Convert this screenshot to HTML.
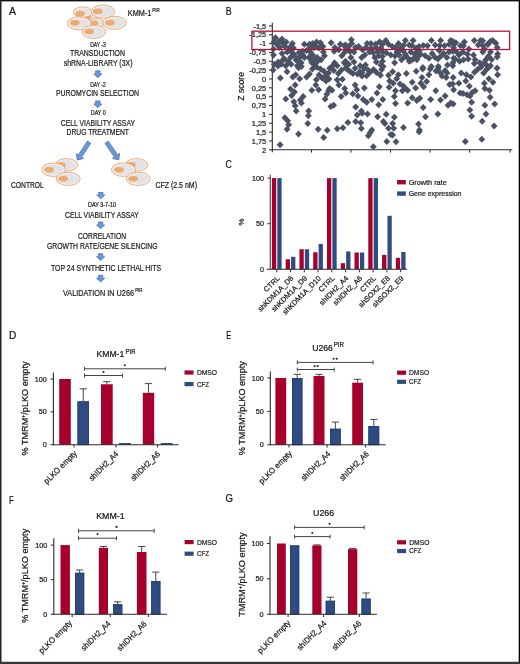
<!DOCTYPE html>
<html><head><meta charset="utf-8"><style>
html,body{margin:0;padding:0;background:#fff;}
svg{display:block;font-family:"Liberation Sans", sans-serif;will-change:transform;}
text{stroke:#1a1a1a;stroke-width:0.22px;}
</style></head><body>
<svg width="520" height="664" viewBox="0 0 520 664">
<rect x="0" y="0" width="520" height="664" fill="#fff"/>
<text x="9.0" y="15.2" font-size="11.5" text-anchor="start" fill="#111" textLength="7.0" lengthAdjust="spacingAndGlyphs" >A</text>
<ellipse cx="90" cy="18" rx="8" ry="4.5" fill="#e3e3e5" stroke="#eeab72" stroke-width="1"/>
<ellipse cx="90" cy="18" rx="6.90" ry="3.40" fill="none" stroke="#f2f2f4" stroke-width="0.9"/>
<ellipse cx="87.6" cy="17.2" rx="3.8" ry="2.3" fill="#eea96e"/>
<ellipse cx="96.8" cy="23" rx="8" ry="4.5" fill="#e3e3e5" stroke="#eeab72" stroke-width="1"/>
<ellipse cx="96.8" cy="23" rx="6.90" ry="3.40" fill="none" stroke="#f2f2f4" stroke-width="0.9"/>
<ellipse cx="94.4" cy="22.9" rx="3.6" ry="2.3" fill="#eea96e"/>
<ellipse cx="82.8" cy="12.1" rx="9.5" ry="5.2" fill="#e3e3e5" stroke="#eeab72" stroke-width="1"/>
<ellipse cx="82.8" cy="12.1" rx="8.40" ry="4.10" fill="none" stroke="#f2f2f4" stroke-width="0.9"/>
<ellipse cx="80" cy="13.7" rx="4.8" ry="2.8" fill="#eea96e"/>
<ellipse cx="103" cy="11.5" rx="11.7" ry="6.4" fill="#e3e3e5" stroke="#eeab72" stroke-width="1"/>
<ellipse cx="103" cy="11.5" rx="10.60" ry="5.30" fill="none" stroke="#f2f2f4" stroke-width="0.9"/>
<ellipse cx="97.8" cy="11.2" rx="4.8" ry="2.8" fill="#eea96e"/>
<ellipse cx="79" cy="23.3" rx="11.9" ry="6.5" fill="#e3e3e5" stroke="#eeab72" stroke-width="1"/>
<ellipse cx="79" cy="23.3" rx="10.80" ry="5.40" fill="none" stroke="#f2f2f4" stroke-width="0.9"/>
<ellipse cx="74.8" cy="22.7" rx="4.8" ry="2.8" fill="#eea96e"/>
<ellipse cx="114.5" cy="22.8" rx="11.7" ry="6.5" fill="#e3e3e5" stroke="#eeab72" stroke-width="1"/>
<ellipse cx="114.5" cy="22.8" rx="10.60" ry="5.40" fill="none" stroke="#f2f2f4" stroke-width="0.9"/>
<ellipse cx="109.8" cy="22.7" rx="4.8" ry="2.8" fill="#eea96e"/>
<ellipse cx="94" cy="31.9" rx="11.8" ry="6.5" fill="#e3e3e5" stroke="#eeab72" stroke-width="1"/>
<ellipse cx="94" cy="31.9" rx="10.70" ry="5.40" fill="none" stroke="#f2f2f4" stroke-width="0.9"/>
<ellipse cx="89.2" cy="31.5" rx="4.8" ry="2.8" fill="#eea96e"/>
<text x="127.8" y="15.6" font-size="9.1" text-anchor="start" fill="#1a1a1a" textLength="23.6" lengthAdjust="spacingAndGlyphs" >KMM-1</text>
<text x="152.3" y="11.9" font-size="5.9" text-anchor="start" fill="#1a1a1a" textLength="7.5" lengthAdjust="spacingAndGlyphs" >PIR</text>
<text x="97.9" y="46.5" font-size="6.5" text-anchor="middle" fill="#1a1a1a" textLength="15.5" lengthAdjust="spacingAndGlyphs" >DAY -3</text>
<text x="97.5" y="55.6" font-size="9.1" text-anchor="middle" fill="#1a1a1a" textLength="55" lengthAdjust="spacingAndGlyphs" >TRANSDUCTION</text>
<text x="98.1" y="65.6" font-size="9.1" text-anchor="middle" fill="#1a1a1a" textLength="68.7" lengthAdjust="spacingAndGlyphs" >shRNA-LIBRARY (3X)</text>
<polygon points="-2.20,-6.90 2.20,-6.90 2.20,-3.80 4.10,-3.80 0.00,0.00 -4.10,-3.80 -2.20,-3.80" transform="translate(97.8,77.7) rotate(0)" fill="#6c98d8" stroke="#416eb2" stroke-width="0.7" stroke-linejoin="miter"/>
<text x="98" y="86.9" font-size="6.5" text-anchor="middle" fill="#1a1a1a" textLength="15.5" lengthAdjust="spacingAndGlyphs" >DAY -2</text>
<text x="97.5" y="96.1" font-size="9.1" text-anchor="middle" fill="#1a1a1a" textLength="83" lengthAdjust="spacingAndGlyphs" >PUROMYCIN SELECTION</text>
<polygon points="-2.20,-6.90 2.20,-6.90 2.20,-3.80 4.10,-3.80 0.00,0.00 -4.10,-3.80 -2.20,-3.80" transform="translate(97.8,107.8) rotate(0)" fill="#6c98d8" stroke="#416eb2" stroke-width="0.7" stroke-linejoin="miter"/>
<text x="98.3" y="115.2" font-size="6.5" text-anchor="middle" fill="#1a1a1a" textLength="15" lengthAdjust="spacingAndGlyphs" >DAY 0</text>
<text x="97.9" y="125.8" font-size="9.1" text-anchor="middle" fill="#1a1a1a" textLength="74.2" lengthAdjust="spacingAndGlyphs" >CELL VIABILITY ASSAY</text>
<text x="97.7" y="135.4" font-size="9.1" text-anchor="middle" fill="#1a1a1a" textLength="62.4" lengthAdjust="spacingAndGlyphs" >DRUG TREATMENT</text>
<polygon points="-2.00,-21.30 2.00,-21.30 2.00,-4.70 4.40,-4.70 0.00,0.00 -4.40,-4.70 -2.00,-4.70" transform="translate(77.4,160.0) rotate(33.2)" fill="#6c98d8" stroke="#416eb2" stroke-width="0.7" stroke-linejoin="miter"/>
<polygon points="-2.00,-21.30 2.00,-21.30 2.00,-4.70 4.40,-4.70 0.00,0.00 -4.40,-4.70 -2.00,-4.70" transform="translate(118.7,159.8) rotate(-34.6)" fill="#6c98d8" stroke="#416eb2" stroke-width="0.7" stroke-linejoin="miter"/>
<ellipse cx="66.5" cy="164.9" rx="11.3" ry="6.25" fill="#e3e3e5" stroke="#eeab72" stroke-width="1"/>
<ellipse cx="66.5" cy="164.9" rx="10.20" ry="5.15" fill="none" stroke="#f2f2f4" stroke-width="0.9"/>
<ellipse cx="60.8" cy="164.9" rx="4.8" ry="2.8" fill="#eea96e"/>
<ellipse cx="53.5" cy="169.7" rx="12" ry="6.7" fill="#e3e3e5" stroke="#eeab72" stroke-width="1"/>
<ellipse cx="53.5" cy="169.7" rx="10.90" ry="5.60" fill="none" stroke="#f2f2f4" stroke-width="0.9"/>
<ellipse cx="49.2" cy="169.7" rx="4.8" ry="2.8" fill="#eea96e"/>
<ellipse cx="68.2" cy="178.8" rx="12" ry="6.6" fill="#e3e3e5" stroke="#eeab72" stroke-width="1"/>
<ellipse cx="68.2" cy="178.8" rx="10.90" ry="5.50" fill="none" stroke="#f2f2f4" stroke-width="0.9"/>
<ellipse cx="63.2" cy="178.8" rx="4.8" ry="2.8" fill="#eea96e"/>
<ellipse cx="136.5" cy="164.9" rx="11.3" ry="6.25" fill="#e3e3e5" stroke="#eeab72" stroke-width="1"/>
<ellipse cx="136.5" cy="164.9" rx="10.20" ry="5.15" fill="none" stroke="#f2f2f4" stroke-width="0.9"/>
<ellipse cx="130.8" cy="164.9" rx="4.8" ry="2.8" fill="#eea96e"/>
<ellipse cx="123.5" cy="169.7" rx="12" ry="6.7" fill="#e3e3e5" stroke="#eeab72" stroke-width="1"/>
<ellipse cx="123.5" cy="169.7" rx="10.90" ry="5.60" fill="none" stroke="#f2f2f4" stroke-width="0.9"/>
<ellipse cx="119.2" cy="169.7" rx="4.8" ry="2.8" fill="#eea96e"/>
<ellipse cx="138.2" cy="178.8" rx="12" ry="6.6" fill="#e3e3e5" stroke="#eeab72" stroke-width="1"/>
<ellipse cx="138.2" cy="178.8" rx="10.90" ry="5.50" fill="none" stroke="#f2f2f4" stroke-width="0.9"/>
<ellipse cx="133.2" cy="178.8" rx="4.8" ry="2.8" fill="#eea96e"/>
<text x="11" y="187.6" font-size="9.1" text-anchor="start" fill="#1a1a1a" textLength="32.8" lengthAdjust="spacingAndGlyphs" >CONTROL</text>
<text x="155.4" y="187.6" font-size="9.1" text-anchor="start" fill="#1a1a1a" textLength="41.6" lengthAdjust="spacingAndGlyphs" >CFZ (2.5 nM)</text>
<polygon points="-2.20,-6.30 2.20,-6.30 2.20,-3.80 4.10,-3.80 0.00,0.00 -4.10,-3.80 -2.20,-3.80" transform="translate(100.8,198.8) rotate(0)" fill="#6c98d8" stroke="#416eb2" stroke-width="0.7" stroke-linejoin="miter"/>
<text x="102" y="207.2" font-size="6.5" text-anchor="middle" fill="#1a1a1a" textLength="28" lengthAdjust="spacingAndGlyphs" >DAY 3-7-10</text>
<text x="101.9" y="217.6" font-size="9.1" text-anchor="middle" fill="#1a1a1a" textLength="73.8" lengthAdjust="spacingAndGlyphs" >CELL VIABILITY ASSAY</text>
<polygon points="-2.20,-6.80 2.20,-6.80 2.20,-3.80 4.10,-3.80 0.00,0.00 -4.10,-3.80 -2.20,-3.80" transform="translate(100.6,228.8) rotate(0)" fill="#6c98d8" stroke="#416eb2" stroke-width="0.7" stroke-linejoin="miter"/>
<text x="102" y="239.3" font-size="9.1" text-anchor="middle" fill="#1a1a1a" textLength="48" lengthAdjust="spacingAndGlyphs" >CORRELATION</text>
<text x="102.2" y="248.8" font-size="9.1" text-anchor="middle" fill="#1a1a1a" textLength="110.5" lengthAdjust="spacingAndGlyphs" >GROWTH RATE/GENE SILENCING</text>
<polygon points="-2.20,-6.80 2.20,-6.80 2.20,-3.80 4.10,-3.80 0.00,0.00 -4.10,-3.80 -2.20,-3.80" transform="translate(100.6,260.5) rotate(0)" fill="#6c98d8" stroke="#416eb2" stroke-width="0.7" stroke-linejoin="miter"/>
<text x="106" y="271.3" font-size="9.1" text-anchor="middle" fill="#1a1a1a" textLength="110" lengthAdjust="spacingAndGlyphs" >TOP 24 SYNTHETIC LETHAL HITS</text>
<polygon points="-2.20,-6.80 2.20,-6.80 2.20,-3.80 4.10,-3.80 0.00,0.00 -4.10,-3.80 -2.20,-3.80" transform="translate(100.6,282.0) rotate(0)" fill="#6c98d8" stroke="#416eb2" stroke-width="0.7" stroke-linejoin="miter"/>
<text x="63" y="295.6" font-size="9.1" text-anchor="start" fill="#1a1a1a" textLength="71" lengthAdjust="spacingAndGlyphs" >VALIDATION IN U266</text>
<text x="135.2" y="291.9" font-size="5.9" text-anchor="start" fill="#1a1a1a" textLength="7.3" lengthAdjust="spacingAndGlyphs" >PIR</text>
<text x="225.8" y="15.0" font-size="11.5" text-anchor="start" fill="#111" textLength="5.9" lengthAdjust="spacingAndGlyphs" >B</text>
<line x1="269.0" y1="25.9" x2="272.3" y2="25.9" stroke="#2a2a2a" stroke-width="1"/>
<text x="266.2" y="28.599999999999998" font-size="7.4" text-anchor="end" fill="#222" >-1,5</text>
<line x1="269.0" y1="34.75" x2="272.3" y2="34.75" stroke="#2a2a2a" stroke-width="1"/>
<text x="266.2" y="37.45" font-size="7.4" text-anchor="end" fill="#222" >-1,25</text>
<line x1="269.0" y1="43.599999999999994" x2="272.3" y2="43.599999999999994" stroke="#2a2a2a" stroke-width="1"/>
<text x="266.2" y="46.3" font-size="7.4" text-anchor="end" fill="#222" >-1</text>
<line x1="269.0" y1="52.449999999999996" x2="272.3" y2="52.449999999999996" stroke="#2a2a2a" stroke-width="1"/>
<text x="266.2" y="55.15" font-size="7.4" text-anchor="end" fill="#222" >-0,75</text>
<line x1="269.0" y1="61.3" x2="272.3" y2="61.3" stroke="#2a2a2a" stroke-width="1"/>
<text x="266.2" y="64.0" font-size="7.4" text-anchor="end" fill="#222" >-0,5</text>
<line x1="269.0" y1="70.15" x2="272.3" y2="70.15" stroke="#2a2a2a" stroke-width="1"/>
<text x="266.2" y="72.85000000000001" font-size="7.4" text-anchor="end" fill="#222" >-0,25</text>
<line x1="269.0" y1="79.0" x2="272.3" y2="79.0" stroke="#2a2a2a" stroke-width="1"/>
<text x="266.2" y="81.7" font-size="7.4" text-anchor="end" fill="#222" >0</text>
<line x1="269.0" y1="87.85" x2="272.3" y2="87.85" stroke="#2a2a2a" stroke-width="1"/>
<text x="266.2" y="90.55" font-size="7.4" text-anchor="end" fill="#222" >0,25</text>
<line x1="269.0" y1="96.69999999999999" x2="272.3" y2="96.69999999999999" stroke="#2a2a2a" stroke-width="1"/>
<text x="266.2" y="99.39999999999999" font-size="7.4" text-anchor="end" fill="#222" >0,5</text>
<line x1="269.0" y1="105.54999999999998" x2="272.3" y2="105.54999999999998" stroke="#2a2a2a" stroke-width="1"/>
<text x="266.2" y="108.24999999999999" font-size="7.4" text-anchor="end" fill="#222" >0,75</text>
<line x1="269.0" y1="114.4" x2="272.3" y2="114.4" stroke="#2a2a2a" stroke-width="1"/>
<text x="266.2" y="117.10000000000001" font-size="7.4" text-anchor="end" fill="#222" >1</text>
<line x1="269.0" y1="123.25" x2="272.3" y2="123.25" stroke="#2a2a2a" stroke-width="1"/>
<text x="266.2" y="125.95" font-size="7.4" text-anchor="end" fill="#222" >1,25</text>
<line x1="269.0" y1="132.1" x2="272.3" y2="132.1" stroke="#2a2a2a" stroke-width="1"/>
<text x="266.2" y="134.79999999999998" font-size="7.4" text-anchor="end" fill="#222" >1,5</text>
<line x1="269.0" y1="140.95" x2="272.3" y2="140.95" stroke="#2a2a2a" stroke-width="1"/>
<text x="266.2" y="143.64999999999998" font-size="7.4" text-anchor="end" fill="#222" >1,75</text>
<line x1="269.0" y1="149.79999999999998" x2="272.3" y2="149.79999999999998" stroke="#2a2a2a" stroke-width="1"/>
<text x="266.2" y="152.49999999999997" font-size="7.4" text-anchor="end" fill="#222" >2</text>
<line x1="272.3" y1="22.7" x2="272.3" y2="152.3" stroke="#2a2a2a" stroke-width="1.1"/>
<line x1="272.3" y1="149.8" x2="512.3" y2="149.8" stroke="#2a2a2a" stroke-width="1.1"/>
<line x1="311.5" y1="149.8" x2="311.5" y2="152.6" stroke="#2a2a2a" stroke-width="1"/>
<line x1="351.0" y1="149.8" x2="351.0" y2="152.6" stroke="#2a2a2a" stroke-width="1"/>
<line x1="390.5" y1="149.8" x2="390.5" y2="152.6" stroke="#2a2a2a" stroke-width="1"/>
<line x1="430.0" y1="149.8" x2="430.0" y2="152.6" stroke="#2a2a2a" stroke-width="1"/>
<line x1="469.7" y1="149.8" x2="469.7" y2="152.6" stroke="#2a2a2a" stroke-width="1"/>
<line x1="510.0" y1="149.8" x2="510.0" y2="152.6" stroke="#2a2a2a" stroke-width="1"/>
<text transform="translate(243.6,86.4) rotate(-90)" x="0" y="0" font-size="8.3" text-anchor="middle" fill="#111" textLength="28.7" lengthAdjust="spacingAndGlyphs">Z score</text>
<path d="M296.2 107.4L299.6 110.9L296.2 114.4L292.8 110.9ZM308.7 107.4L312.1 110.9L308.7 114.4L305.2 110.9ZM308.3 112.3L311.8 115.8L308.3 119.3L304.9 115.8ZM284.9 114.3L288.3 117.8L284.9 121.3L281.4 117.8ZM287.6 117.2L291.1 120.7L287.6 124.2L284.2 120.7ZM288.7 121.2L292.1 124.7L288.7 128.2L285.2 124.7ZM287.0 125.8L290.4 129.3L287.0 132.8L283.6 129.3ZM307.8 120.1L311.2 123.6L307.8 127.1L304.4 123.6ZM298.5 130.5L301.9 134.0L298.5 137.5L295.1 134.0ZM318.2 125.8L321.6 129.3L318.2 132.8L314.8 129.3ZM327.2 126.8L330.6 130.3L327.2 133.8L323.8 130.3ZM323.7 133.9L327.1 137.4L323.7 140.9L320.2 137.4ZM280.1 141.2L283.6 144.7L280.1 148.2L276.7 144.7ZM361.4 107.4L364.8 110.9L361.4 114.4L357.9 110.9ZM362.2 109.7L365.6 113.2L362.2 116.7L358.8 113.2ZM357.2 111.4L360.6 114.9L357.2 118.4L353.8 114.9ZM367.5 110.5L370.9 114.0L367.5 117.5L364.1 114.0ZM377.6 113.2L381.1 116.7L377.6 120.2L374.2 116.7ZM386.2 110.8L389.6 114.3L386.2 117.8L382.8 114.3ZM347.9 118.9L351.3 122.4L347.9 125.9L344.4 122.4ZM355.7 118.1L359.1 121.6L355.7 125.1L352.2 121.6ZM360.8 119.3L364.2 122.8L360.8 126.3L357.4 122.8ZM361.4 125.0L364.8 128.5L361.4 132.0L357.9 128.5ZM343.0 124.3L346.4 127.8L343.0 131.3L339.6 127.8ZM337.2 125.3L340.6 128.8L337.2 132.3L333.8 128.8ZM371.8 126.4L375.2 129.9L371.8 133.4L368.4 129.9ZM370.1 129.3L373.6 132.8L370.1 136.3L366.7 132.8ZM368.3 132.2L371.8 135.7L368.3 139.2L364.9 135.7ZM383.3 118.1L386.8 121.6L383.3 125.1L379.9 121.6ZM384.8 120.1L388.2 123.6L384.8 127.1L381.4 123.6ZM388.5 124.7L391.9 128.2L388.5 131.7L385.1 128.2ZM390.8 131.0L394.2 134.5L390.8 138.0L387.4 134.5ZM386.8 138.0L390.2 141.5L386.8 145.0L383.4 141.5ZM373.3 143.2L376.8 146.7L373.3 150.2L369.9 146.7ZM425.5 113.2L428.9 116.7L425.5 120.2L422.1 116.7ZM437.9 110.5L441.3 114.0L437.9 117.5L434.4 114.0ZM394.3 113.7L397.8 117.2L394.3 120.7L390.9 117.2ZM392.6 120.1L396.1 123.6L392.6 127.1L389.2 123.6ZM393.7 124.7L397.1 128.2L393.7 131.7L390.2 128.2ZM403.5 124.1L406.9 127.6L403.5 131.1L400.1 127.6ZM418.5 120.4L421.9 123.9L418.5 127.4L415.1 123.9ZM419.5 126.4L422.9 129.9L419.5 133.4L416.1 129.9ZM419.1 128.2L422.6 131.7L419.1 135.2L415.7 131.7ZM392.6 131.6L396.1 135.1L392.6 138.6L389.2 135.1ZM396.0 138.3L399.4 141.8L396.0 145.3L392.6 141.8ZM469.9 106.6L473.3 110.1L469.9 113.6L466.4 110.1ZM471.6 112.8L475.1 116.3L471.6 119.8L468.2 116.3ZM486.0 110.5L489.4 114.0L486.0 117.5L482.6 114.0ZM482.2 117.8L485.6 121.3L482.2 124.8L478.8 121.3ZM494.1 122.4L497.6 125.9L494.1 129.4L490.7 125.9ZM481.8 135.7L485.2 139.2L481.8 142.7L478.4 139.2ZM465.3 138.0L468.8 141.5L465.3 145.0L461.9 141.5ZM273.2 66.5L276.6 70.0L273.2 73.5L269.8 70.0ZM280.3 74.6L283.8 78.1L280.3 81.6L276.9 78.1ZM287.0 68.3L290.4 71.8L287.0 75.3L283.6 71.8ZM292.8 73.5L296.2 77.0L292.8 80.5L289.4 77.0ZM295.7 71.2L299.1 74.7L295.7 78.2L292.2 74.7ZM299.7 75.2L303.1 78.7L299.7 82.2L296.2 78.7ZM298.5 64.2L301.9 67.7L298.5 71.2L295.1 67.7ZM301.4 63.1L304.8 66.6L301.4 70.1L297.9 66.6ZM306.6 73.5L310.1 77.0L306.6 80.5L303.2 77.0ZM309.5 70.6L312.9 74.1L309.5 77.6L306.1 74.1ZM312.4 65.4L315.8 68.9L312.4 72.4L308.9 68.9ZM317.0 63.7L320.4 67.2L317.0 70.7L313.6 67.2ZM320.5 65.4L323.9 68.9L320.5 72.4L317.1 68.9ZM323.9 67.7L327.3 71.2L323.9 74.7L320.4 71.2ZM325.1 72.9L328.6 76.4L325.1 79.9L321.7 76.4ZM328.5 69.4L331.9 72.9L328.5 76.4L325.1 72.9ZM329.7 64.8L333.1 68.3L329.7 71.8L326.2 68.3ZM316.4 76.3L319.8 79.8L316.4 83.3L312.9 79.8ZM315.8 81.5L319.2 85.0L315.8 88.5L312.4 85.0ZM318.7 86.2L322.1 89.7L318.7 93.2L315.2 89.7ZM311.8 86.7L315.2 90.2L311.8 93.7L308.4 90.2ZM295.1 81.5L298.6 85.0L295.1 88.5L291.7 85.0ZM290.5 85.6L293.9 89.1L290.5 92.6L287.1 89.1ZM294.5 88.5L297.9 92.0L294.5 95.5L291.1 92.0ZM291.6 91.9L295.1 95.4L291.6 98.9L288.2 95.4ZM285.8 95.4L289.2 98.9L285.8 102.4L282.4 98.9ZM303.2 93.1L306.6 96.6L303.2 100.1L299.8 96.6ZM300.3 96.5L303.8 100.0L300.3 103.5L296.9 100.0ZM301.4 99.4L304.8 102.9L301.4 106.4L297.9 102.9ZM293.9 98.3L297.3 101.8L293.9 105.3L290.4 101.8ZM295.1 102.3L298.6 105.8L295.1 109.3L291.7 105.8ZM328.5 87.3L331.9 90.8L328.5 94.3L325.1 90.8ZM326.8 90.8L330.2 94.3L326.8 97.8L323.4 94.3ZM325.1 95.4L328.6 98.9L325.1 102.4L321.7 98.9ZM329.7 85.0L333.1 88.5L329.7 92.0L326.2 88.5ZM330.8 102.9L334.2 106.4L330.8 109.9L327.4 106.4ZM333.7 67.1L337.1 70.6L333.7 74.1L330.2 70.6ZM338.3 70.0L341.8 73.5L338.3 77.0L334.9 73.5ZM337.2 76.3L340.6 79.8L337.2 83.3L333.8 79.8ZM342.4 75.8L345.8 79.3L342.4 82.8L338.9 79.3ZM338.9 81.5L342.3 85.0L338.9 88.5L335.4 85.0ZM344.7 85.0L348.1 88.5L344.7 92.0L341.2 88.5ZM345.8 89.6L349.2 93.1L345.8 96.6L342.4 93.1ZM341.2 93.1L344.6 96.6L341.2 100.1L337.8 96.6ZM345.8 64.8L349.2 68.3L345.8 71.8L342.4 68.3ZM350.5 68.3L353.9 71.8L350.5 75.3L347.1 71.8ZM355.1 64.8L358.6 68.3L355.1 71.8L351.7 68.3ZM359.7 68.3L363.1 71.8L359.7 75.3L356.2 71.8ZM364.3 64.8L367.8 68.3L364.3 71.8L360.9 68.3ZM366.6 72.3L370.1 75.8L366.6 79.3L363.2 75.8ZM370.1 68.8L373.6 72.3L370.1 75.8L366.7 72.3ZM373.5 66.0L376.9 69.5L373.5 73.0L370.1 69.5ZM380.5 71.7L383.9 75.2L380.5 78.7L377.1 75.2ZM381.6 66.0L385.1 69.5L381.6 73.0L378.2 69.5ZM388.5 71.7L391.9 75.2L388.5 78.7L385.1 75.2ZM389.7 77.5L393.1 81.0L389.7 84.5L386.2 81.0ZM389.1 83.8L392.6 87.3L389.1 90.8L385.7 87.3ZM355.1 81.5L358.6 85.0L355.1 88.5L351.7 85.0ZM356.8 86.2L360.2 89.7L356.8 93.2L353.4 89.7ZM364.3 84.4L367.8 87.9L364.3 91.4L360.9 87.9ZM352.8 90.2L356.2 93.7L352.8 97.2L349.4 93.7ZM358.0 92.5L361.4 96.0L358.0 99.5L354.6 96.0ZM363.2 96.0L366.6 99.5L363.2 103.0L359.8 99.5ZM366.6 98.8L370.1 102.3L366.6 105.8L363.2 102.3ZM371.8 96.0L375.2 99.5L371.8 103.0L368.4 99.5ZM379.3 83.3L382.8 86.8L379.3 90.3L375.9 86.8ZM377.0 89.6L380.4 93.1L377.0 96.6L373.6 93.1ZM382.8 96.0L386.2 99.5L382.8 103.0L379.4 99.5ZM378.7 101.2L382.1 104.7L378.7 108.2L375.2 104.7ZM333.7 101.7L337.1 105.2L333.7 108.7L330.2 105.2ZM355.7 103.5L359.1 107.0L355.7 110.5L352.2 107.0ZM332.0 86.7L335.4 90.2L332.0 93.7L328.6 90.2ZM392.6 68.3L396.1 71.8L392.6 75.3L389.2 71.8ZM398.3 71.2L401.8 74.7L398.3 78.2L394.9 74.7ZM396.6 75.2L400.1 78.7L396.6 82.2L393.2 78.7ZM393.2 79.8L396.6 83.3L393.2 86.8L389.8 83.3ZM406.4 70.0L409.8 73.5L406.4 77.0L402.9 73.5ZM416.2 67.7L419.6 71.2L416.2 74.7L412.8 71.2ZM422.6 65.4L426.1 68.9L422.6 72.4L419.2 68.9ZM430.1 65.4L433.6 68.9L430.1 72.4L426.7 68.9ZM428.9 71.2L432.3 74.7L428.9 78.2L425.4 74.7ZM438.2 64.8L441.6 68.3L438.2 71.8L434.8 68.3ZM440.5 69.4L443.9 72.9L440.5 76.4L437.1 72.9ZM445.1 67.1L448.6 70.6L445.1 74.1L441.7 70.6ZM446.2 74.0L449.6 77.5L446.2 81.0L442.8 77.5ZM449.7 81.0L453.1 84.5L449.7 88.0L446.2 84.5ZM422.0 74.0L425.4 77.5L422.0 81.0L418.6 77.5ZM426.6 78.1L430.1 81.6L426.6 85.1L423.2 81.6ZM420.8 79.8L424.2 83.3L420.8 86.8L417.4 83.3ZM423.7 83.3L427.1 86.8L423.7 90.3L420.2 86.8ZM412.2 78.7L415.6 82.2L412.2 85.7L408.8 82.2ZM415.7 84.4L419.1 87.9L415.7 91.4L412.2 87.9ZM403.5 82.7L406.9 86.2L403.5 89.7L400.1 86.2ZM407.6 86.7L411.1 90.2L407.6 93.7L404.2 90.2ZM402.4 87.3L405.8 90.8L402.4 94.3L398.9 90.8ZM395.5 87.3L398.9 90.8L395.5 94.3L392.1 90.8ZM394.3 93.1L397.8 96.6L394.3 100.1L390.9 96.6ZM412.2 94.2L415.6 97.7L412.2 101.2L408.8 97.7ZM419.7 94.8L423.1 98.3L419.7 101.8L416.2 98.3ZM416.8 97.1L420.2 100.6L416.8 104.1L413.4 100.6ZM407.6 99.4L411.1 102.9L407.6 106.4L404.2 102.9ZM395.5 100.0L398.9 103.5L395.5 107.0L392.1 103.5ZM430.7 96.0L434.1 99.5L430.7 103.0L427.2 99.5ZM435.8 87.3L439.2 90.8L435.8 94.3L432.4 90.8ZM445.1 92.5L448.6 96.0L445.1 99.5L441.7 96.0ZM440.5 96.5L443.9 100.0L440.5 103.5L437.1 100.0ZM448.0 101.7L451.4 105.2L448.0 108.7L444.6 105.2ZM423.2 104.0L426.6 107.5L423.2 111.0L419.8 107.5ZM450.8 99.4L454.2 102.9L450.8 106.4L447.4 102.9ZM453.2 74.0L456.6 77.5L453.2 81.0L449.8 77.5ZM452.6 80.4L456.1 83.9L452.6 87.4L449.2 83.9ZM458.9 79.8L462.3 83.3L458.9 86.8L455.4 83.3ZM453.7 86.2L457.1 89.7L453.7 93.2L450.2 89.7ZM461.2 69.4L464.6 72.9L461.2 76.4L457.8 72.9ZM466.4 71.2L469.8 74.7L466.4 78.2L462.9 74.7ZM465.8 77.5L469.2 81.0L465.8 84.5L462.4 81.0ZM471.0 73.5L474.4 77.0L471.0 80.5L467.6 77.0ZM474.5 68.8L477.9 72.3L474.5 75.8L471.1 72.3ZM478.0 65.4L481.4 68.9L478.0 72.4L474.6 68.9ZM480.8 63.7L484.2 67.2L480.8 70.7L477.4 67.2ZM483.7 69.4L487.1 72.9L483.7 76.4L480.2 72.9ZM486.6 66.0L490.1 69.5L486.6 73.0L483.2 69.5ZM497.0 64.8L500.4 68.3L497.0 71.8L493.6 68.3ZM497.6 71.2L501.1 74.7L497.6 78.2L494.2 74.7ZM469.3 82.7L472.8 86.2L469.3 89.7L465.9 86.2ZM460.1 89.6L463.6 93.1L460.1 96.6L456.7 93.1ZM467.0 91.3L470.4 94.8L467.0 98.3L463.6 94.8ZM472.2 89.0L475.6 92.5L472.2 96.0L468.8 92.5ZM475.1 87.3L478.6 90.8L475.1 94.3L471.7 90.8ZM488.9 75.2L492.3 78.7L488.9 82.2L485.4 78.7ZM484.3 79.8L487.8 83.3L484.3 86.8L480.9 83.3ZM493.0 78.7L496.4 82.2L493.0 85.7L489.6 82.2ZM484.9 85.0L488.3 88.5L484.9 92.0L481.4 88.5ZM489.5 86.7L492.9 90.2L489.5 93.7L486.1 90.2ZM490.1 93.7L493.6 97.2L490.1 100.7L486.7 97.2ZM471.6 98.8L475.1 102.3L471.6 105.8L468.2 102.3ZM484.9 101.7L488.3 105.2L484.9 108.7L481.4 105.2ZM494.7 100.6L498.1 104.1L494.7 107.6L491.2 104.1ZM453.2 100.6L456.6 104.1L453.2 107.6L449.8 104.1ZM275.5 34.3L278.9 37.8L275.5 41.3L272.1 37.8ZM282.0 35.4L285.4 38.9L282.0 42.4L278.6 38.9ZM286.2 38.5L289.6 42.0L286.2 45.5L282.8 42.0ZM292.4 40.0L295.8 43.5L292.4 47.0L288.9 43.5ZM279.7 43.9L283.1 47.4L279.7 50.9L276.2 47.4ZM285.1 43.1L288.6 46.6L285.1 50.1L281.7 46.6ZM289.7 43.9L293.1 47.4L289.7 50.9L286.2 47.4ZM304.3 40.8L307.8 44.3L304.3 47.8L300.9 44.3ZM308.9 41.6L312.3 45.1L308.9 48.6L305.4 45.1ZM273.5 51.6L276.9 55.1L273.5 58.6L270.1 55.1ZM282.0 50.0L285.4 53.5L282.0 57.0L278.6 53.5ZM287.4 48.5L290.8 52.0L287.4 55.5L283.9 52.0ZM290.5 53.9L293.9 57.4L290.5 60.9L287.1 57.4ZM284.3 55.4L287.8 58.9L284.3 62.4L280.9 58.9ZM278.2 58.5L281.6 62.0L278.2 65.5L274.8 62.0ZM274.3 60.8L277.8 64.3L274.3 67.8L270.9 64.3ZM291.2 60.8L294.6 64.3L291.2 67.8L287.8 64.3ZM295.1 53.1L298.6 56.6L295.1 60.1L291.7 56.6ZM298.9 49.3L302.3 52.8L298.9 56.3L295.4 52.8ZM302.8 47.7L306.2 51.2L302.8 54.7L299.4 51.2ZM306.6 47.0L310.1 50.5L306.6 54.0L303.2 50.5ZM310.5 43.9L313.9 47.4L310.5 50.9L307.1 47.4ZM304.3 53.9L307.8 57.4L304.3 60.9L300.9 57.4ZM301.2 59.3L304.6 62.8L301.2 66.3L297.8 62.8ZM311.5 57.5L314.9 61.0L311.5 64.5L308.1 61.0ZM297.4 62.3L300.8 65.8L297.4 69.3L293.9 65.8ZM285.8 62.3L289.2 65.8L285.8 69.3L282.4 65.8ZM281.2 60.8L284.6 64.3L281.2 67.8L277.8 64.3ZM309.5 40.8L312.9 44.3L309.5 47.8L306.1 44.3ZM312.6 40.0L316.1 43.5L312.6 47.0L309.2 43.5ZM316.5 38.5L319.9 42.0L316.5 45.5L313.1 42.0ZM320.3 39.3L323.8 42.8L320.3 46.3L316.9 42.8ZM323.0 43.1L326.4 46.6L323.0 50.1L319.6 46.6ZM314.2 43.9L317.6 47.4L314.2 50.9L310.8 47.4ZM310.3 48.5L313.8 52.0L310.3 55.5L306.9 52.0ZM323.4 48.5L326.8 52.0L323.4 55.5L319.9 52.0ZM324.5 52.3L327.9 55.8L324.5 59.3L321.1 55.8ZM312.6 51.6L316.1 55.1L312.6 58.6L309.2 55.1ZM308.8 53.9L312.2 57.4L308.8 60.9L305.4 57.4ZM317.2 53.9L320.6 57.4L317.2 60.9L313.8 57.4ZM321.1 56.2L324.6 59.7L321.1 63.2L317.7 59.7ZM311.8 59.3L315.2 62.8L311.8 66.3L308.4 62.8ZM314.9 61.6L318.3 65.1L314.9 68.6L311.4 65.1ZM331.1 39.3L334.6 42.8L331.1 46.3L327.7 42.8ZM334.9 43.9L338.3 47.4L334.9 50.9L331.4 47.4ZM334.2 47.7L337.6 51.2L334.2 54.7L330.8 51.2ZM340.3 40.8L343.8 44.3L340.3 47.8L336.9 44.3ZM344.2 42.3L347.6 45.8L344.2 49.3L340.8 45.8ZM346.5 44.7L349.9 48.2L346.5 51.7L343.1 48.2ZM338.8 46.2L342.2 49.7L338.8 53.2L335.4 49.7ZM341.8 52.3L345.2 55.8L341.8 59.3L338.4 55.8ZM344.9 48.5L348.3 52.0L344.9 55.5L341.4 52.0ZM334.5 59.3L337.9 62.8L334.5 66.3L331.1 62.8ZM332.6 62.3L336.1 65.8L332.6 69.3L329.2 65.8ZM337.2 62.3L340.6 65.8L337.2 69.3L333.8 65.8ZM344.2 59.3L347.6 62.8L344.2 66.3L340.8 62.8ZM346.5 62.3L349.9 65.8L346.5 69.3L343.1 65.8ZM351.3 36.2L354.8 39.7L351.3 43.2L347.9 39.7ZM351.7 40.0L355.1 43.5L351.7 47.0L348.2 43.5ZM345.5 41.6L348.9 45.1L345.5 48.6L342.1 45.1ZM348.6 43.1L352.1 46.6L348.6 50.1L345.2 46.6ZM358.6 43.1L362.1 46.6L358.6 50.1L355.2 46.6ZM362.5 46.2L365.9 49.7L362.5 53.2L359.1 49.7ZM367.1 40.0L370.6 43.5L367.1 47.0L363.7 43.5ZM370.9 40.0L374.3 43.5L370.9 47.0L367.4 43.5ZM375.5 40.8L378.9 44.3L375.5 47.8L372.1 44.3ZM379.4 38.5L382.8 42.0L379.4 45.5L375.9 42.0ZM382.5 40.8L385.9 44.3L382.5 47.8L379.1 44.3ZM345.5 47.7L348.9 51.2L345.5 54.7L342.1 51.2ZM364.8 51.6L368.2 55.1L364.8 58.6L361.4 55.1ZM361.7 53.9L365.1 57.4L361.7 60.9L358.2 57.4ZM369.4 48.5L372.8 52.0L369.4 55.5L365.9 52.0ZM373.2 49.3L376.6 52.8L373.2 56.3L369.8 52.8ZM377.8 48.5L381.2 52.0L377.8 55.5L374.4 52.0ZM374.8 53.9L378.2 57.4L374.8 60.9L371.4 57.4ZM376.3 58.5L379.8 62.0L376.3 65.5L372.9 62.0ZM350.9 53.9L354.3 57.4L350.9 60.9L347.4 57.4ZM345.5 57.7L348.9 61.2L345.5 64.7L342.1 61.2ZM354.0 58.5L357.4 62.0L354.0 65.5L350.6 62.0ZM348.6 60.8L352.1 64.3L348.6 67.8L345.2 64.3ZM360.2 62.3L363.6 65.8L360.2 69.3L356.8 65.8ZM365.5 61.6L368.9 65.1L365.5 68.6L362.1 65.1ZM380.9 61.6L384.3 65.1L380.9 68.6L377.4 65.1ZM382.5 57.7L385.9 61.2L382.5 64.7L379.1 61.2ZM355.5 43.9L358.9 47.4L355.5 50.9L352.1 47.4ZM354.0 48.5L357.4 52.0L354.0 55.5L350.6 52.0ZM380.8 39.3L384.2 42.8L380.8 46.3L377.4 42.8ZM385.8 37.0L389.2 40.5L385.8 44.0L382.4 40.5ZM388.5 40.8L391.9 44.3L388.5 47.8L385.1 44.3ZM392.3 43.1L395.8 46.6L392.3 50.1L388.9 46.6ZM398.5 40.0L401.9 43.5L398.5 47.0L395.1 43.5ZM405.4 37.0L408.8 40.5L405.4 44.0L401.9 40.5ZM413.1 37.0L416.6 40.5L413.1 44.0L409.7 40.5ZM409.2 41.6L412.6 45.1L409.2 48.6L405.8 45.1ZM416.2 44.7L419.6 48.2L416.2 51.7L412.8 48.2ZM419.2 47.0L422.6 50.5L419.2 54.0L415.8 50.5ZM382.3 48.5L385.8 52.0L382.3 55.5L378.9 52.0ZM386.2 49.3L389.6 52.8L386.2 56.3L382.8 52.8ZM382.3 53.1L385.8 56.6L382.3 60.1L378.9 56.6ZM390.8 51.6L394.2 55.1L390.8 58.6L387.4 55.1ZM396.9 48.5L400.3 52.0L396.9 55.5L393.4 52.0ZM400.0 47.0L403.4 50.5L400.0 54.0L396.6 50.5ZM403.1 47.0L406.6 50.5L403.1 54.0L399.7 50.5ZM405.4 50.8L408.8 54.3L405.4 57.8L401.9 54.3ZM410.8 48.5L414.2 52.0L410.8 55.5L407.4 52.0ZM414.6 50.8L418.1 54.3L414.6 57.8L411.2 54.3ZM418.5 51.6L421.9 55.1L418.5 58.6L415.1 55.1ZM401.5 56.2L404.9 59.7L401.5 63.2L398.1 59.7ZM409.2 57.7L412.6 61.2L409.2 64.7L405.8 61.2ZM413.1 55.4L416.6 58.9L413.1 62.4L409.7 58.9ZM394.6 59.3L398.1 62.8L394.6 66.3L391.2 62.8ZM383.1 63.1L386.6 66.6L383.1 70.1L379.7 66.6ZM431.4 37.0L434.8 40.5L431.4 44.0L427.9 40.5ZM440.6 37.0L444.1 40.5L440.6 44.0L437.2 40.5ZM450.6 37.0L454.1 40.5L450.6 44.0L447.2 40.5ZM423.3 42.0L426.8 45.5L423.3 49.0L419.9 45.5ZM427.5 42.3L430.9 45.8L427.5 49.3L424.1 45.8ZM435.2 41.6L438.6 45.1L435.2 48.6L431.8 45.1ZM439.8 42.0L443.2 45.5L439.8 49.0L436.4 45.5ZM444.5 42.3L447.9 45.8L444.5 49.3L441.1 45.8ZM449.1 40.8L452.6 44.3L449.1 47.8L445.7 44.3ZM453.7 40.8L457.1 44.3L453.7 47.8L450.2 44.3ZM417.5 47.7L420.9 51.2L417.5 54.7L414.1 51.2ZM420.6 50.8L424.1 54.3L420.6 57.8L417.2 54.3ZM425.2 52.3L428.6 55.8L425.2 59.3L421.8 55.8ZM429.1 54.7L432.6 58.2L429.1 61.7L425.7 58.2ZM432.2 50.0L435.6 53.5L432.2 57.0L428.8 53.5ZM435.2 53.9L438.6 57.4L435.2 60.9L431.8 57.4ZM439.1 47.0L442.6 50.5L439.1 54.0L435.7 50.5ZM443.7 50.0L447.1 53.5L443.7 57.0L440.2 53.5ZM446.8 53.9L450.2 57.4L446.8 60.9L443.4 57.4ZM449.1 48.5L452.6 52.0L449.1 55.5L445.7 52.0ZM452.9 47.7L456.3 51.2L452.9 54.7L449.4 51.2ZM453.7 54.7L457.1 58.2L453.7 61.7L450.2 58.2ZM452.9 59.3L456.3 62.8L452.9 66.3L449.4 62.8ZM416.8 56.2L420.2 59.7L416.8 63.2L413.4 59.7ZM422.9 63.9L426.3 67.4L422.9 70.9L419.4 67.4ZM431.4 63.1L434.8 66.6L431.4 70.1L427.9 66.6ZM438.3 63.1L441.8 66.6L438.3 70.1L434.9 66.6ZM447.5 61.6L450.9 65.1L447.5 68.6L444.1 65.1ZM452.8 37.7L456.2 41.2L452.8 44.7L449.4 41.2ZM455.8 39.3L459.2 42.8L455.8 46.3L452.4 42.8ZM464.3 38.5L467.8 42.0L464.3 45.5L460.9 42.0ZM463.5 42.3L466.9 45.8L463.5 49.3L460.1 45.8ZM460.5 42.3L463.9 45.8L460.5 49.3L457.1 45.8ZM453.5 43.9L456.9 47.4L453.5 50.9L450.1 47.4ZM468.9 45.4L472.3 48.9L468.9 52.4L465.4 48.9ZM474.3 37.0L477.8 40.5L474.3 44.0L470.9 40.5ZM480.5 37.0L483.9 40.5L480.5 44.0L477.1 40.5ZM478.2 41.6L481.6 45.1L478.2 48.6L474.8 45.1ZM482.8 42.3L486.2 45.8L482.8 49.3L479.4 45.8ZM487.4 40.8L490.8 44.3L487.4 47.8L483.9 44.3ZM490.5 37.7L493.9 41.2L490.5 44.7L487.1 41.2ZM456.6 48.5L460.1 52.0L456.6 55.5L453.2 52.0ZM462.8 48.5L466.2 52.0L462.8 55.5L459.4 52.0ZM467.4 50.8L470.8 54.3L467.4 57.8L463.9 54.3ZM455.1 55.4L458.6 58.9L455.1 62.4L451.7 58.9ZM459.7 57.7L463.1 61.2L459.7 64.7L456.2 61.2ZM463.5 56.2L466.9 59.7L463.5 63.2L460.1 59.7ZM468.2 55.4L471.6 58.9L468.2 62.4L464.8 58.9ZM473.5 51.6L476.9 55.1L473.5 58.6L470.1 55.1ZM475.1 56.2L478.6 59.7L475.1 63.2L471.7 59.7ZM474.3 60.0L477.8 63.5L474.3 67.0L470.9 63.5ZM479.7 59.3L483.1 62.8L479.7 66.3L476.2 62.8ZM482.8 48.5L486.2 52.0L482.8 55.5L479.4 52.0ZM484.3 45.4L487.8 48.9L484.3 52.4L480.9 48.9ZM488.2 53.1L491.6 56.6L488.2 60.1L484.8 56.6ZM490.5 48.5L493.9 52.0L490.5 55.5L487.1 52.0ZM485.8 60.8L489.2 64.3L485.8 67.8L482.4 64.3ZM490.5 62.3L493.9 65.8L490.5 69.3L487.1 65.8ZM452.8 62.3L456.2 65.8L452.8 69.3L449.4 65.8ZM492.8 37.0L496.2 40.5L492.8 44.0L489.4 40.5ZM495.9 39.8L499.3 43.3L495.9 46.8L492.4 43.3ZM488.0 41.0L491.4 44.5L488.0 48.0L484.6 44.5ZM482.6 37.3L486.1 40.8L482.6 44.3L479.2 40.8ZM497.1 44.0L500.6 47.5L497.1 51.0L493.7 47.5ZM483.8 46.4L487.2 49.9L483.8 53.4L480.4 49.9ZM497.7 50.6L501.1 54.1L497.7 57.6L494.2 54.1ZM497.1 53.6L500.6 57.1L497.1 60.6L493.7 57.1ZM488.6 53.0L492.1 56.5L488.6 60.0L485.2 56.5ZM491.6 56.0L495.1 59.5L491.6 63.0L488.2 59.5ZM485.6 56.6L489.1 60.1L485.6 63.6L482.2 60.1ZM482.6 60.8L486.1 64.3L482.6 67.8L479.2 64.3ZM497.1 64.5L500.6 68.0L497.1 71.5L493.7 68.0ZM487.4 65.1L490.8 68.6L487.4 72.1L483.9 68.6ZM274.0 38.5L277.4 42.0L274.0 45.5L270.6 42.0ZM277.0 41.0L280.4 44.5L277.0 48.0L273.6 44.5ZM273.5 45.5L276.9 49.0L273.5 52.5L270.1 49.0ZM279.0 38.0L282.4 41.5L279.0 45.0L275.6 41.5ZM282.5 39.5L285.9 43.0L282.5 46.5L279.1 43.0ZM291.0 47.5L294.4 51.0L291.0 54.5L287.6 51.0ZM293.0 50.0L296.4 53.5L293.0 57.0L289.6 53.5ZM293.5 44.5L296.9 48.0L293.5 51.5L290.1 48.0ZM281.0 58.5L284.4 62.0L281.0 65.5L277.6 62.0ZM296.0 56.5L299.4 60.0L296.0 63.5L292.6 60.0ZM299.0 57.5L302.4 61.0L299.0 64.5L295.6 61.0ZM303.0 51.5L306.4 55.0L303.0 58.5L299.6 55.0ZM316.0 43.0L319.4 46.5L316.0 50.0L312.6 46.5ZM319.0 44.5L322.4 48.0L319.0 51.5L315.6 48.0ZM313.0 56.5L316.4 60.0L313.0 63.5L309.6 60.0ZM317.0 58.5L320.4 62.0L317.0 65.5L313.6 62.0ZM350.0 48.0L353.4 51.5L350.0 55.0L346.6 51.5ZM366.0 44.0L369.4 47.5L366.0 51.0L362.6 47.5ZM371.0 44.5L374.4 48.0L371.0 51.5L367.6 48.0ZM376.0 44.0L379.4 47.5L376.0 51.0L372.6 47.5ZM381.0 44.5L384.4 48.0L381.0 51.5L377.6 48.0ZM378.5 52.5L381.9 56.0L378.5 59.5L375.1 56.0ZM395.5 44.0L398.9 47.5L395.5 51.0L392.1 47.5ZM403.5 42.0L406.9 45.5L403.5 49.0L400.1 45.5ZM401.0 44.5L404.4 48.0L401.0 51.5L397.6 48.0ZM412.0 42.0L415.4 45.5L412.0 49.0L408.6 45.5ZM408.0 54.5L411.4 58.0L408.0 61.5L404.6 58.0ZM411.0 57.0L414.4 60.5L411.0 64.0L407.6 60.5ZM405.0 53.0L408.4 56.5L405.0 60.0L401.6 56.5ZM399.0 51.5L402.4 55.0L399.0 58.5L395.6 55.0ZM395.0 52.5L398.4 56.0L395.0 59.5L391.6 56.0ZM419.0 43.0L422.4 46.5L419.0 50.0L415.6 46.5ZM441.0 52.5L444.4 56.0L441.0 59.5L437.6 56.0ZM438.0 55.5L441.4 59.0L438.0 62.5L434.6 59.0ZM418.0 53.5L421.4 57.0L418.0 60.5L414.6 57.0ZM459.0 51.5L462.4 55.0L459.0 58.5L455.6 55.0ZM322.0 74.5L325.4 78.0L322.0 81.5L318.6 78.0ZM326.0 77.5L329.4 81.0L326.0 84.5L322.6 81.0ZM329.0 75.5L332.4 79.0L329.0 82.5L325.6 79.0ZM319.0 71.5L322.4 75.0L319.0 78.5L315.6 75.0ZM348.0 66.5L351.4 70.0L348.0 73.5L344.6 70.0ZM353.0 70.0L356.4 73.5L353.0 77.0L349.6 73.5ZM357.5 70.5L360.9 74.0L357.5 77.5L354.1 74.0ZM362.0 69.0L365.4 72.5L362.0 76.0L358.6 72.5ZM368.0 66.5L371.4 70.0L368.0 73.5L364.6 70.0ZM341.5 66.5L344.9 70.0L341.5 73.5L338.1 70.0ZM362.0 72.5L365.4 76.0L362.0 79.5L358.6 76.0ZM376.5 69.0L379.9 72.5L376.5 76.0L373.1 72.5ZM436.0 67.5L439.4 71.0L436.0 74.5L432.6 71.0ZM442.0 72.5L445.4 76.0L442.0 79.5L438.6 76.0ZM447.0 69.5L450.4 73.0L447.0 76.5L443.6 73.0ZM400.0 80.5L403.4 84.0L400.0 87.5L396.6 84.0ZM405.0 84.5L408.4 88.0L405.0 91.5L401.6 88.0ZM463.0 90.0L466.4 93.5L463.0 97.0L459.6 93.5ZM470.0 92.5L473.4 96.0L470.0 99.5L466.6 96.0ZM284.0 55.0L287.4 58.5L284.0 62.0L280.6 58.5ZM288.5 58.0L291.9 61.5L288.5 65.0L285.1 61.5ZM300.0 53.5L303.4 57.0L300.0 60.5L296.6 57.0ZM278.0 62.5L281.4 66.0L278.0 69.5L274.6 66.0Z" fill="#4b5266"/>
<rect x="251.9" y="31.2" width="257.7" height="18.3" fill="none" stroke="#b3143c" stroke-width="1.3"/>
<text x="225.6" y="167.5" font-size="11.5" text-anchor="start" fill="#111" textLength="6.3" lengthAdjust="spacingAndGlyphs" >C</text>
<rect x="271.90" y="178.10" width="4.30" height="91.20" fill="#a6002c" />
<rect x="277.30" y="178.10" width="4.30" height="91.20" fill="#2f4c82" />
<line x1="276.75" y1="269.3" x2="276.75" y2="272.3" stroke="#2a2a2a" stroke-width="1"/>
<text transform="translate(280.15,278.90000000000003) rotate(-45)" x="0" y="0" font-size="7.4" text-anchor="end" fill="#111">CTRL</text>
<rect x="285.67" y="259.27" width="4.30" height="10.03" fill="#a6002c" />
<rect x="291.07" y="256.81" width="4.30" height="12.49" fill="#2f4c82" />
<line x1="290.52" y1="269.3" x2="290.52" y2="272.3" stroke="#2a2a2a" stroke-width="1"/>
<text transform="translate(293.91999999999996,278.90000000000003) rotate(-45)" x="0" y="0" font-size="7.4" text-anchor="end" fill="#111">shKDM1A_D6</text>
<rect x="299.44" y="249.24" width="4.30" height="20.06" fill="#a6002c" />
<rect x="304.84" y="249.24" width="4.30" height="20.06" fill="#2f4c82" />
<line x1="304.29" y1="269.3" x2="304.29" y2="272.3" stroke="#2a2a2a" stroke-width="1"/>
<text transform="translate(307.69,278.90000000000003) rotate(-45)" x="0" y="0" font-size="7.4" text-anchor="end" fill="#111">shKDM1A_D9</text>
<rect x="313.21" y="252.25" width="4.30" height="17.05" fill="#a6002c" />
<rect x="318.61" y="243.95" width="4.30" height="25.35" fill="#2f4c82" />
<line x1="318.06" y1="269.3" x2="318.06" y2="272.3" stroke="#2a2a2a" stroke-width="1"/>
<text transform="translate(321.46,278.90000000000003) rotate(-45)" x="0" y="0" font-size="7.4" text-anchor="end" fill="#111">shKDM1A_D10</text>
<rect x="326.98" y="178.10" width="4.30" height="91.20" fill="#a6002c" />
<rect x="332.38" y="178.10" width="4.30" height="91.20" fill="#2f4c82" />
<line x1="331.83" y1="269.3" x2="331.83" y2="272.3" stroke="#2a2a2a" stroke-width="1"/>
<text transform="translate(335.22999999999996,278.90000000000003) rotate(-45)" x="0" y="0" font-size="7.4" text-anchor="end" fill="#111">CTRL</text>
<rect x="340.75" y="263.19" width="4.30" height="6.11" fill="#a6002c" />
<rect x="346.15" y="251.42" width="4.30" height="17.88" fill="#2f4c82" />
<line x1="345.6" y1="269.3" x2="345.6" y2="272.3" stroke="#2a2a2a" stroke-width="1"/>
<text transform="translate(349.0,278.90000000000003) rotate(-45)" x="0" y="0" font-size="7.4" text-anchor="end" fill="#111">shIDH2_A4</text>
<rect x="354.52" y="252.52" width="4.30" height="16.78" fill="#a6002c" />
<rect x="359.92" y="252.52" width="4.30" height="16.78" fill="#2f4c82" />
<line x1="359.37" y1="269.3" x2="359.37" y2="272.3" stroke="#2a2a2a" stroke-width="1"/>
<text transform="translate(362.77,278.90000000000003) rotate(-45)" x="0" y="0" font-size="7.4" text-anchor="end" fill="#111">shIDH2_A6</text>
<rect x="368.29" y="178.10" width="4.30" height="91.20" fill="#a6002c" />
<rect x="373.69" y="178.10" width="4.30" height="91.20" fill="#2f4c82" />
<line x1="373.14" y1="269.3" x2="373.14" y2="272.3" stroke="#2a2a2a" stroke-width="1"/>
<text transform="translate(376.53999999999996,278.90000000000003) rotate(-45)" x="0" y="0" font-size="7.4" text-anchor="end" fill="#111">CTRL</text>
<rect x="382.06" y="254.89" width="4.30" height="14.41" fill="#a6002c" />
<rect x="387.46" y="215.77" width="4.30" height="53.53" fill="#2f4c82" />
<line x1="386.90999999999997" y1="269.3" x2="386.90999999999997" y2="272.3" stroke="#2a2a2a" stroke-width="1"/>
<text transform="translate(390.30999999999995,278.90000000000003) rotate(-45)" x="0" y="0" font-size="7.4" text-anchor="end" fill="#111">shSOX2_E8</text>
<rect x="395.83" y="257.81" width="4.30" height="11.49" fill="#a6002c" />
<rect x="401.23" y="251.97" width="4.30" height="17.33" fill="#2f4c82" />
<line x1="400.68" y1="269.3" x2="400.68" y2="272.3" stroke="#2a2a2a" stroke-width="1"/>
<text transform="translate(404.08,278.90000000000003) rotate(-45)" x="0" y="0" font-size="7.4" text-anchor="end" fill="#111">shSOX2_E9</text>
<line x1="270.3" y1="174.8" x2="270.3" y2="269.3" stroke="#555" stroke-width="1.2"/>
<line x1="266.7" y1="269.3" x2="407.0" y2="269.3" stroke="#2a2a2a" stroke-width="1.1"/>
<line x1="267.5" y1="178.10000000000002" x2="270.3" y2="178.10000000000002" stroke="#2a2a2a" stroke-width="1"/>
<line x1="267.5" y1="223.70000000000002" x2="270.3" y2="223.70000000000002" stroke="#2a2a2a" stroke-width="1"/>
<text x="264.0" y="180.70000000000002" font-size="7.2" text-anchor="end" fill="#222" >100</text>
<text x="264.0" y="226.3" font-size="7.2" text-anchor="end" fill="#222" >50</text>
<text x="264.0" y="271.90000000000003" font-size="7.2" text-anchor="end" fill="#222" >0</text>
<text transform="translate(243.6,222.1) rotate(-90)" x="0" y="0" font-size="7.8" text-anchor="middle" fill="#111">%</text>
<rect x="397.10" y="180.00" width="8.70" height="4.40" fill="#a6002c" />
<rect x="397.10" y="191.40" width="8.70" height="4.40" fill="#2f4c82" />
<text x="408.7" y="185.0" font-size="7.4" text-anchor="start" fill="#222" textLength="38" lengthAdjust="spacingAndGlyphs" >Growth rate</text>
<text x="408.7" y="196.4" font-size="7.4" text-anchor="start" fill="#222" textLength="52.8" lengthAdjust="spacingAndGlyphs" >Gene expression</text>
<text x="8.9" y="339.1" font-size="11.5" text-anchor="start" fill="#111" textLength="7.3" lengthAdjust="spacingAndGlyphs" >D</text>
<rect x="59.20" y="379.00" width="11.60" height="65.70" fill="#a6002c" />
<line x1="83.25" y1="401.33799999999997" x2="83.25" y2="388.855" stroke="#333" stroke-width="0.9"/>
<line x1="79.65" y1="388.855" x2="86.85" y2="388.855" stroke="#333" stroke-width="0.9"/>
<rect x="77.50" y="401.34" width="11.50" height="43.36" fill="#2f4c82" />
<rect x="77.95" y="401.79" width="10.60" height="42.91" fill="none" stroke="#223f75" stroke-width="0.9"/>
<line x1="106.85" y1="384.256" x2="106.85" y2="381.628" stroke="#333" stroke-width="0.9"/>
<line x1="103.25" y1="381.628" x2="110.44999999999999" y2="381.628" stroke="#333" stroke-width="0.9"/>
<rect x="101.00" y="384.26" width="11.70" height="60.44" fill="#a6002c" />
<rect x="119.00" y="443.12" width="11.80" height="1.58" fill="#1d3163" />
<line x1="148.5" y1="392.797" x2="148.5" y2="383.599" stroke="#333" stroke-width="0.9"/>
<line x1="144.9" y1="383.599" x2="152.1" y2="383.599" stroke="#333" stroke-width="0.9"/>
<rect x="142.80" y="392.80" width="11.40" height="51.90" fill="#a6002c" />
<rect x="160.80" y="443.12" width="11.80" height="1.58" fill="#1d3163" />
<line x1="53.4" y1="372.4" x2="53.4" y2="445.2" stroke="#2a2a2a" stroke-width="1.1"/>
<line x1="50.4" y1="444.7" x2="178.6" y2="444.7" stroke="#2a2a2a" stroke-width="1.1"/>
<line x1="50.4" y1="379.0" x2="53.4" y2="379.0" stroke="#2a2a2a" stroke-width="1"/>
<line x1="50.4" y1="411.85" x2="53.4" y2="411.85" stroke="#2a2a2a" stroke-width="1"/>
<text x="46.8" y="381.6" font-size="7.2" text-anchor="end" fill="#222" >100</text>
<text x="46.8" y="414.45000000000005" font-size="7.2" text-anchor="end" fill="#222" >50</text>
<text x="46.8" y="447.3" font-size="7.2" text-anchor="end" fill="#222" >0</text>
<line x1="74.0" y1="444.7" x2="74.0" y2="447.5" stroke="#2a2a2a" stroke-width="1"/>
<line x1="116.0" y1="444.7" x2="116.0" y2="447.5" stroke="#2a2a2a" stroke-width="1"/>
<line x1="157.6" y1="444.7" x2="157.6" y2="447.5" stroke="#2a2a2a" stroke-width="1"/>
<line x1="84.5" y1="368.8" x2="165.3" y2="368.8" stroke="#444" stroke-width="1"/>
<line x1="84.5" y1="366.8" x2="84.5" y2="370.8" stroke="#444" stroke-width="1"/>
<line x1="165.3" y1="366.8" x2="165.3" y2="370.8" stroke="#444" stroke-width="1"/>
<circle cx="124.8" cy="365.2" r="1.05" fill="#262626"/>
<line x1="84.5" y1="375.5" x2="122.5" y2="375.5" stroke="#444" stroke-width="1"/>
<line x1="84.5" y1="373.5" x2="84.5" y2="377.5" stroke="#444" stroke-width="1"/>
<line x1="122.5" y1="373.5" x2="122.5" y2="377.5" stroke="#444" stroke-width="1"/>
<circle cx="103.5" cy="372.0" r="1.05" fill="#262626"/>
<rect x="184.50" y="370.40" width="9.00" height="4.20" fill="#a6002c" />
<rect x="184.50" y="382.00" width="9.00" height="4.20" fill="#2f4c82" />
<text x="196.9" y="374.9" font-size="7.7" text-anchor="start" fill="#222" textLength="20.2" lengthAdjust="spacingAndGlyphs" >DMSO</text>
<text x="196.9" y="386.5" font-size="7.7" text-anchor="start" fill="#222" textLength="12.1" lengthAdjust="spacingAndGlyphs" >CFZ</text>
<text x="96.5" y="357.0" font-size="8.8" text-anchor="start" fill="#111" textLength="27.8" lengthAdjust="spacingAndGlyphs" >KMM-1</text>
<text x="125.6" y="354.0" font-size="6.3" text-anchor="start" fill="#111" textLength="9.8" lengthAdjust="spacingAndGlyphs" >PIR</text>
<text transform="translate(28.0,408.5) rotate(-90)" x="0" y="0" font-size="9.6" text-anchor="middle" fill="#111" textLength="94" lengthAdjust="spacingAndGlyphs">% TMRM<tspan dy="-3" font-size="5.5">+</tspan><tspan dy="3">/pLKO empty</tspan></text>
<text transform="translate(77.5,454.0) rotate(-45)" x="0" y="0" font-size="8.2" text-anchor="end" fill="#111" textLength="43" lengthAdjust="spacingAndGlyphs">pLKO empty</text>
<text transform="translate(119.0,454.5) rotate(-45)" x="0" y="0" font-size="8.2" text-anchor="end" fill="#111" textLength="38" lengthAdjust="spacingAndGlyphs">shIDH2_A4</text>
<text transform="translate(160.8,454.5) rotate(-45)" x="0" y="0" font-size="8.2" text-anchor="end" fill="#111" textLength="38" lengthAdjust="spacingAndGlyphs">shIDH2_A6</text>
<text x="226.2" y="339.2" font-size="11.5" text-anchor="start" fill="#111" textLength="5.0" lengthAdjust="spacingAndGlyphs" >E</text>
<rect x="275.40" y="378.00" width="10.80" height="66.80" fill="#a6002c" />
<line x1="297.2" y1="378.0" x2="297.2" y2="374.326" stroke="#333" stroke-width="0.9"/>
<line x1="293.59999999999997" y1="374.326" x2="300.8" y2="374.326" stroke="#333" stroke-width="0.9"/>
<rect x="292.00" y="378.00" width="10.40" height="66.80" fill="#2f4c82" />
<rect x="292.45" y="378.45" width="9.50" height="66.35" fill="none" stroke="#223f75" stroke-width="0.9"/>
<line x1="319.0" y1="375.996" x2="319.0" y2="374.326" stroke="#333" stroke-width="0.9"/>
<line x1="315.4" y1="374.326" x2="322.6" y2="374.326" stroke="#333" stroke-width="0.9"/>
<rect x="313.50" y="376.00" width="11.00" height="68.80" fill="#a6002c" />
<line x1="335.35" y1="428.76800000000003" x2="335.35" y2="422.088" stroke="#333" stroke-width="0.9"/>
<line x1="331.75" y1="422.088" x2="338.95000000000005" y2="422.088" stroke="#333" stroke-width="0.9"/>
<rect x="330.00" y="428.77" width="10.70" height="16.03" fill="#2f4c82" />
<rect x="330.45" y="429.22" width="9.80" height="15.58" fill="none" stroke="#223f75" stroke-width="0.9"/>
<line x1="357.6" y1="382.676" x2="357.6" y2="379.336" stroke="#333" stroke-width="0.9"/>
<line x1="354.0" y1="379.336" x2="361.20000000000005" y2="379.336" stroke="#333" stroke-width="0.9"/>
<rect x="352.20" y="382.68" width="10.80" height="62.12" fill="#a6002c" />
<line x1="373.79999999999995" y1="426.096" x2="373.79999999999995" y2="419.416" stroke="#333" stroke-width="0.9"/>
<line x1="370.19999999999993" y1="419.416" x2="377.4" y2="419.416" stroke="#333" stroke-width="0.9"/>
<rect x="368.40" y="426.10" width="10.80" height="18.70" fill="#2f4c82" />
<rect x="368.85" y="426.55" width="9.90" height="18.25" fill="none" stroke="#223f75" stroke-width="0.9"/>
<line x1="270.3" y1="371.4" x2="270.3" y2="445.3" stroke="#2a2a2a" stroke-width="1.1"/>
<line x1="267.3" y1="444.8" x2="385.6" y2="444.8" stroke="#2a2a2a" stroke-width="1.1"/>
<line x1="267.3" y1="378.0" x2="270.3" y2="378.0" stroke="#2a2a2a" stroke-width="1"/>
<line x1="267.3" y1="411.4" x2="270.3" y2="411.4" stroke="#2a2a2a" stroke-width="1"/>
<text x="263.7" y="380.6" font-size="7.2" text-anchor="end" fill="#222" >100</text>
<text x="263.7" y="414.0" font-size="7.2" text-anchor="end" fill="#222" >50</text>
<text x="263.7" y="447.40000000000003" font-size="7.2" text-anchor="end" fill="#222" >0</text>
<line x1="289.0" y1="444.8" x2="289.0" y2="447.6" stroke="#2a2a2a" stroke-width="1"/>
<line x1="327.1" y1="444.8" x2="327.1" y2="447.6" stroke="#2a2a2a" stroke-width="1"/>
<line x1="365.7" y1="444.8" x2="365.7" y2="447.6" stroke="#2a2a2a" stroke-width="1"/>
<line x1="297.3" y1="362.4" x2="373.0" y2="362.4" stroke="#444" stroke-width="1"/>
<line x1="297.3" y1="360.4" x2="297.3" y2="364.4" stroke="#444" stroke-width="1"/>
<line x1="373.0" y1="360.4" x2="373.0" y2="364.4" stroke="#444" stroke-width="1"/>
<circle cx="333.65" cy="358.7" r="1.05" fill="#262626"/>
<circle cx="336.75" cy="358.7" r="1.05" fill="#262626"/>
<line x1="297.3" y1="369.5" x2="334.2" y2="369.5" stroke="#444" stroke-width="1"/>
<line x1="297.3" y1="367.5" x2="297.3" y2="371.5" stroke="#444" stroke-width="1"/>
<line x1="334.2" y1="367.5" x2="334.2" y2="371.5" stroke="#444" stroke-width="1"/>
<circle cx="314.65" cy="366.1" r="1.05" fill="#262626"/>
<circle cx="317.75" cy="366.1" r="1.05" fill="#262626"/>
<rect x="397.10" y="370.60" width="9.00" height="4.20" fill="#a6002c" />
<rect x="397.10" y="379.70" width="9.00" height="4.20" fill="#2f4c82" />
<text x="409.0" y="375.1" font-size="7.7" text-anchor="start" fill="#222" textLength="20.2" lengthAdjust="spacingAndGlyphs" >DMSO</text>
<text x="409.0" y="384.2" font-size="7.7" text-anchor="start" fill="#222" textLength="12.1" lengthAdjust="spacingAndGlyphs" >CFZ</text>
<text x="312.2" y="351.0" font-size="8.8" text-anchor="start" fill="#111" textLength="20.7" lengthAdjust="spacingAndGlyphs" >U266</text>
<text x="333.7" y="347.4" font-size="6.4" text-anchor="start" fill="#111" textLength="10.2" lengthAdjust="spacingAndGlyphs" >PIR</text>
<text transform="translate(245.0,408.2) rotate(-90)" x="0" y="0" font-size="9.6" text-anchor="middle" fill="#111" textLength="94" lengthAdjust="spacingAndGlyphs">% TMRM<tspan dy="-3" font-size="5.5">+</tspan><tspan dy="3">/pLKO empty</tspan></text>
<text transform="translate(292.5,454.0) rotate(-45)" x="0" y="0" font-size="8.2" text-anchor="end" fill="#111" textLength="43" lengthAdjust="spacingAndGlyphs">pLKO empty</text>
<text transform="translate(331.0,454.5) rotate(-45)" x="0" y="0" font-size="8.2" text-anchor="end" fill="#111" textLength="38" lengthAdjust="spacingAndGlyphs">shIDH2_A4</text>
<text transform="translate(369.5,454.5) rotate(-45)" x="0" y="0" font-size="8.2" text-anchor="end" fill="#111" textLength="38" lengthAdjust="spacingAndGlyphs">shIDH2_A6</text>
<text x="9.1" y="504.0" font-size="11.5" text-anchor="start" fill="#111" textLength="4.8" lengthAdjust="spacingAndGlyphs" >F</text>
<rect x="60.50" y="545.10" width="9.40" height="69.20" fill="#a6002c" />
<line x1="79.6" y1="572.78" x2="79.6" y2="570.012" stroke="#333" stroke-width="0.9"/>
<line x1="76.0" y1="570.012" x2="83.19999999999999" y2="570.012" stroke="#333" stroke-width="0.9"/>
<rect x="75.00" y="572.78" width="9.20" height="41.52" fill="#2f4c82" />
<rect x="75.45" y="573.23" width="8.30" height="41.07" fill="none" stroke="#223f75" stroke-width="0.9"/>
<line x1="103.4" y1="547.868" x2="103.4" y2="546.484" stroke="#333" stroke-width="0.9"/>
<line x1="99.80000000000001" y1="546.484" x2="107.0" y2="546.484" stroke="#333" stroke-width="0.9"/>
<rect x="98.80" y="547.87" width="9.20" height="66.43" fill="#a6002c" />
<line x1="117.69999999999999" y1="604.1967999999999" x2="117.69999999999999" y2="601.8439999999999" stroke="#333" stroke-width="0.9"/>
<line x1="114.1" y1="601.8439999999999" x2="121.29999999999998" y2="601.8439999999999" stroke="#333" stroke-width="0.9"/>
<rect x="113.10" y="604.20" width="9.20" height="10.10" fill="#2f4c82" />
<rect x="113.55" y="604.65" width="8.30" height="9.65" fill="none" stroke="#223f75" stroke-width="0.9"/>
<line x1="141.7" y1="552.02" x2="141.7" y2="546.484" stroke="#333" stroke-width="0.9"/>
<line x1="138.1" y1="546.484" x2="145.29999999999998" y2="546.484" stroke="#333" stroke-width="0.9"/>
<rect x="136.90" y="552.02" width="9.60" height="62.28" fill="#a6002c" />
<line x1="155.8" y1="581.084" x2="155.8" y2="572.088" stroke="#333" stroke-width="0.9"/>
<line x1="152.20000000000002" y1="572.088" x2="159.4" y2="572.088" stroke="#333" stroke-width="0.9"/>
<rect x="151.20" y="581.08" width="9.20" height="33.22" fill="#2f4c82" />
<rect x="151.65" y="581.53" width="8.30" height="32.77" fill="none" stroke="#223f75" stroke-width="0.9"/>
<line x1="53.8" y1="538.2" x2="53.8" y2="614.8" stroke="#2a2a2a" stroke-width="1.1"/>
<line x1="50.8" y1="614.3" x2="167" y2="614.3" stroke="#2a2a2a" stroke-width="1.1"/>
<line x1="50.8" y1="545.1" x2="53.8" y2="545.1" stroke="#2a2a2a" stroke-width="1"/>
<line x1="50.8" y1="579.7" x2="53.8" y2="579.7" stroke="#2a2a2a" stroke-width="1"/>
<text x="47.199999999999996" y="547.7" font-size="7.2" text-anchor="end" fill="#222" >100</text>
<text x="47.199999999999996" y="582.3000000000001" font-size="7.2" text-anchor="end" fill="#222" >50</text>
<text x="47.199999999999996" y="616.9" font-size="7.2" text-anchor="end" fill="#222" >0</text>
<line x1="72.2" y1="614.3" x2="72.2" y2="617.0999999999999" stroke="#2a2a2a" stroke-width="1"/>
<line x1="110.3" y1="614.3" x2="110.3" y2="617.0999999999999" stroke="#2a2a2a" stroke-width="1"/>
<line x1="148.4" y1="614.3" x2="148.4" y2="617.0999999999999" stroke="#2a2a2a" stroke-width="1"/>
<line x1="78.5" y1="530.8" x2="154.2" y2="530.8" stroke="#444" stroke-width="1"/>
<line x1="78.5" y1="528.8" x2="78.5" y2="532.8" stroke="#444" stroke-width="1"/>
<line x1="154.2" y1="528.8" x2="154.2" y2="532.8" stroke="#444" stroke-width="1"/>
<circle cx="116.5" cy="526.9" r="1.05" fill="#262626"/>
<line x1="78.5" y1="538.2" x2="116.5" y2="538.2" stroke="#444" stroke-width="1"/>
<line x1="78.5" y1="536.2" x2="78.5" y2="540.2" stroke="#444" stroke-width="1"/>
<line x1="116.5" y1="536.2" x2="116.5" y2="540.2" stroke="#444" stroke-width="1"/>
<circle cx="97.6" cy="534.0999999999999" r="1.05" fill="#262626"/>
<rect x="184.60" y="540.00" width="9.00" height="4.20" fill="#a6002c" />
<rect x="184.60" y="551.60" width="9.00" height="4.20" fill="#2f4c82" />
<text x="196.9" y="544.5" font-size="7.7" text-anchor="start" fill="#222" textLength="20.2" lengthAdjust="spacingAndGlyphs" >DMSO</text>
<text x="196.9" y="556.1" font-size="7.7" text-anchor="start" fill="#222" textLength="12.1" lengthAdjust="spacingAndGlyphs" >CFZ</text>
<text x="96.2" y="519.2" font-size="8.8" text-anchor="start" fill="#111" textLength="28.4" lengthAdjust="spacingAndGlyphs" >KMM-1</text>
<text transform="translate(28.0,575.8) rotate(-90)" x="0" y="0" font-size="9.6" text-anchor="middle" fill="#111" textLength="94" lengthAdjust="spacingAndGlyphs">% TMRM<tspan dy="-3" font-size="5.5">+</tspan><tspan dy="3">/pLKO empty</tspan></text>
<text transform="translate(72.5,623.6) rotate(-45)" x="0" y="0" font-size="8.2" text-anchor="end" fill="#111" textLength="43" lengthAdjust="spacingAndGlyphs">pLKO empty</text>
<text transform="translate(111.2,624.3) rotate(-45)" x="0" y="0" font-size="8.2" text-anchor="end" fill="#111" textLength="38" lengthAdjust="spacingAndGlyphs">shIDH2_A4</text>
<text transform="translate(147.2,624.6) rotate(-45)" x="0" y="0" font-size="8.2" text-anchor="end" fill="#111" textLength="38" lengthAdjust="spacingAndGlyphs">shIDH2_A6</text>
<text x="225.6" y="501.6" font-size="11.5" text-anchor="start" fill="#111" textLength="7.5" lengthAdjust="spacingAndGlyphs" >G</text>
<rect x="277.00" y="543.50" width="8.80" height="70.70" fill="#a6002c" />
<rect x="290.00" y="545.41" width="9.20" height="68.79" fill="#2f4c82" />
<rect x="290.45" y="545.86" width="8.30" height="68.34" fill="none" stroke="#223f75" stroke-width="0.9"/>
<line x1="316.9" y1="545.4089" x2="316.9" y2="544.914" stroke="#333" stroke-width="0.9"/>
<line x1="313.29999999999995" y1="544.914" x2="320.5" y2="544.914" stroke="#333" stroke-width="0.9"/>
<rect x="312.30" y="545.41" width="9.20" height="68.79" fill="#a6002c" />
<line x1="330.29999999999995" y1="600.767" x2="330.29999999999995" y2="597.2320000000001" stroke="#333" stroke-width="0.9"/>
<line x1="326.69999999999993" y1="597.2320000000001" x2="333.9" y2="597.2320000000001" stroke="#333" stroke-width="0.9"/>
<rect x="325.70" y="600.77" width="9.20" height="13.43" fill="#2f4c82" />
<rect x="326.15" y="601.22" width="8.30" height="12.98" fill="none" stroke="#223f75" stroke-width="0.9"/>
<line x1="352.65" y1="549.156" x2="352.65" y2="548.4490000000001" stroke="#333" stroke-width="0.9"/>
<line x1="349.04999999999995" y1="548.4490000000001" x2="356.25" y2="548.4490000000001" stroke="#333" stroke-width="0.9"/>
<rect x="348.00" y="549.16" width="9.30" height="65.04" fill="#a6002c" />
<line x1="366.1" y1="598.6460000000001" x2="366.1" y2="592.99" stroke="#333" stroke-width="0.9"/>
<line x1="362.5" y1="592.99" x2="369.70000000000005" y2="592.99" stroke="#333" stroke-width="0.9"/>
<rect x="361.50" y="598.65" width="9.20" height="15.55" fill="#2f4c82" />
<rect x="361.95" y="599.10" width="8.30" height="15.10" fill="none" stroke="#223f75" stroke-width="0.9"/>
<line x1="270.0" y1="536.2" x2="270.0" y2="614.7" stroke="#2a2a2a" stroke-width="1.1"/>
<line x1="267.0" y1="614.2" x2="377" y2="614.2" stroke="#2a2a2a" stroke-width="1.1"/>
<line x1="267.0" y1="543.5" x2="270.0" y2="543.5" stroke="#2a2a2a" stroke-width="1"/>
<line x1="267.0" y1="578.85" x2="270.0" y2="578.85" stroke="#2a2a2a" stroke-width="1"/>
<text x="263.4" y="546.1" font-size="7.2" text-anchor="end" fill="#222" >100</text>
<text x="263.4" y="581.45" font-size="7.2" text-anchor="end" fill="#222" >50</text>
<text x="263.4" y="616.8000000000001" font-size="7.2" text-anchor="end" fill="#222" >0</text>
<line x1="288.1" y1="614.2" x2="288.1" y2="617.0" stroke="#2a2a2a" stroke-width="1"/>
<line x1="323.6" y1="614.2" x2="323.6" y2="617.0" stroke="#2a2a2a" stroke-width="1"/>
<line x1="359.4" y1="614.2" x2="359.4" y2="617.0" stroke="#2a2a2a" stroke-width="1"/>
<line x1="294.5" y1="527.4" x2="364.2" y2="527.4" stroke="#444" stroke-width="1"/>
<line x1="294.5" y1="525.4" x2="294.5" y2="529.4" stroke="#444" stroke-width="1"/>
<line x1="364.2" y1="525.4" x2="364.2" y2="529.4" stroke="#444" stroke-width="1"/>
<circle cx="329.6" cy="523.8" r="1.05" fill="#262626"/>
<line x1="294.5" y1="536.6" x2="330.1" y2="536.6" stroke="#444" stroke-width="1"/>
<line x1="294.5" y1="534.6" x2="294.5" y2="538.6" stroke="#444" stroke-width="1"/>
<line x1="330.1" y1="534.6" x2="330.1" y2="538.6" stroke="#444" stroke-width="1"/>
<circle cx="312.3" cy="533.0" r="1.05" fill="#262626"/>
<rect x="397.10" y="540.20" width="9.00" height="4.20" fill="#a6002c" />
<rect x="397.10" y="548.90" width="9.00" height="4.20" fill="#2f4c82" />
<text x="409.2" y="544.7" font-size="7.7" text-anchor="start" fill="#222" textLength="20.2" lengthAdjust="spacingAndGlyphs" >DMSO</text>
<text x="409.2" y="553.4" font-size="7.7" text-anchor="start" fill="#222" textLength="12.1" lengthAdjust="spacingAndGlyphs" >CFZ</text>
<text x="313.0" y="516.1" font-size="8.8" text-anchor="start" fill="#111" textLength="21.2" lengthAdjust="spacingAndGlyphs" >U266</text>
<text transform="translate(245.0,574.6) rotate(-90)" x="0" y="0" font-size="9.6" text-anchor="middle" fill="#111" textLength="84.5" lengthAdjust="spacingAndGlyphs">TMRM<tspan dy="-3" font-size="5.5">+</tspan><tspan dy="3">/pLKO empty</tspan></text>
<text transform="translate(291.0,623.5) rotate(-45)" x="0" y="0" font-size="8.2" text-anchor="end" fill="#111" textLength="43" lengthAdjust="spacingAndGlyphs">pLKO empty</text>
<text transform="translate(327.0,624.0) rotate(-45)" x="0" y="0" font-size="8.2" text-anchor="end" fill="#111" textLength="38" lengthAdjust="spacingAndGlyphs">shIDH2_A4</text>
<text transform="translate(362.0,624.0) rotate(-45)" x="0" y="0" font-size="8.2" text-anchor="end" fill="#111" textLength="38" lengthAdjust="spacingAndGlyphs">shIDH2_A6</text>
<rect x="0" y="0" width="520" height="1.4" fill="#111"/>
<rect x="0" y="0" width="1.5" height="664" fill="#222"/>
<rect x="518.7" y="0" width="1.3" height="664" fill="#000"/>
<rect x="0" y="661.8" width="520" height="2.2" fill="#383838"/>
</svg></body></html>
